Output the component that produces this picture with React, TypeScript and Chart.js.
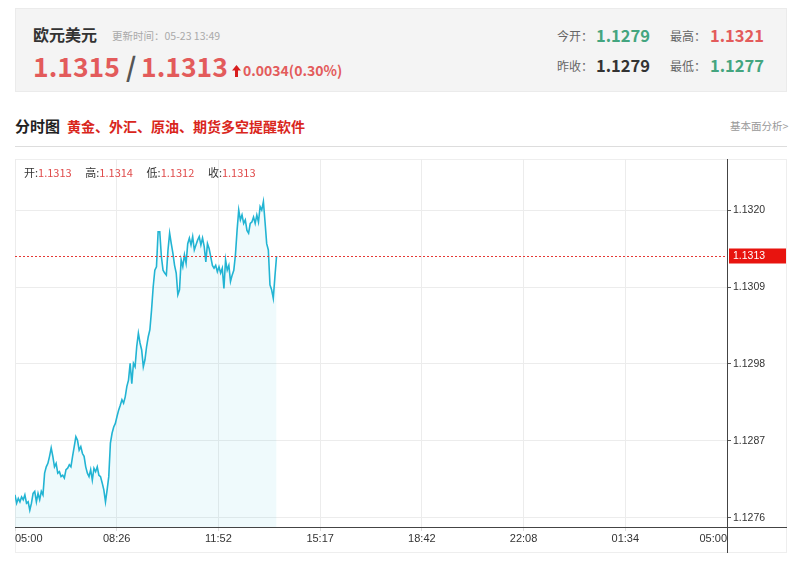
import React, { useEffect, useRef } from "react";
import { Chart, registerables } from "chart.js";

Chart.register(...registerables);

const timeLabels = ["05:00", "08:26", "11:52", "15:17", "18:42", "22:08", "01:34", "05:00"];
const sessionMinutes = 1440;
const lastMinute = 529; // 05:00 -> 13:49
const priceValues = [
  1.12793, 1.12781, 1.12788, 1.12783, 1.1279, 1.12786, 1.12793, 1.12781, 1.12783, 1.12771,
  1.12781, 1.12795, 1.12798, 1.12783, 1.12795, 1.12786, 1.12798, 1.12793, 1.12824, 1.12833,
  1.12838, 1.12848, 1.1286, 1.12848, 1.12833, 1.12838, 1.12824, 1.12826, 1.12819, 1.12821,
  1.12817, 1.12829, 1.12831, 1.12836, 1.12833, 1.12848, 1.12862, 1.12876, 1.12871, 1.12857,
  1.12862, 1.12852, 1.12848, 1.12833, 1.12824, 1.12819, 1.12829, 1.12814, 1.12831, 1.12826,
  1.12833, 1.12821, 1.12819, 1.1281, 1.128, 1.12783, 1.128, 1.12819, 1.12867, 1.12881,
  1.1289, 1.12895, 1.12905, 1.12914, 1.12921, 1.12929, 1.12924, 1.12933, 1.12948, 1.12957,
  1.12981, 1.12952, 1.12981, 1.12976, 1.13005, 1.13024, 1.1301, 1.13, 1.12976, 1.12986,
  1.13005, 1.13019, 1.13029, 1.13057, 1.1309, 1.13114, 1.13119, 1.13169, 1.13169, 1.13133,
  1.13114, 1.1311, 1.13107, 1.13143, 1.13167, 1.13152, 1.13138, 1.13121, 1.1311, 1.13079,
  1.13086, 1.13129, 1.13119, 1.13136, 1.13124, 1.13152, 1.1316, 1.1315, 1.13162, 1.13143,
  1.1315, 1.13157, 1.13162, 1.1315, 1.1316, 1.13148, 1.13126, 1.13152, 1.13145, 1.13133,
  1.13121, 1.13117, 1.13121, 1.13112, 1.13119, 1.1311, 1.13117, 1.13088, 1.13129, 1.13114,
  1.13121, 1.13098, 1.13107, 1.13114, 1.13136, 1.13171, 1.132, 1.13186, 1.13193, 1.13181,
  1.13186, 1.13171, 1.13167, 1.13181, 1.13183, 1.1319, 1.13181, 1.13193, 1.13183, 1.13205,
  1.132, 1.13212, 1.13183, 1.13152, 1.13143, 1.13093, 1.13086, 1.13074, 1.13105, 1.13134,
];
const yTickValues = [1.1276, 1.1287, 1.1298, 1.1309, 1.132];
const yMin = 1.12747;
const yMax = 1.13273;
const lastPrice = 1.13134;
const ohlcLabels = ["开", "高", "低", "收"];
const ohlcValues = ["1.1313", "1.1314", "1.1312", "1.1313"];

const CJK = "'Noto Sans CJK SC', 'Noto Sans', sans-serif";
const AXIS_FONT = "'Liberation Sans', Arial, sans-serif";

type TxtProps = {
  x: number;
  cy: number;
  size: number;
  color: string;
  bold?: boolean;
  children: React.ReactNode;
};

function Txt({ x, cy, size, color, bold, children }: TxtProps) {
  return (
    <div
      style={{
        position: "absolute",
        left: x,
        top: cy - size * 0.66,
        fontSize: size,
        lineHeight: `${size * 1.2}px`,
        color,
        fontWeight: bold ? 700 : 400,
        fontFamily: CJK,
        whiteSpace: "nowrap",
      }}
    >
      {children}
    </div>
  );
}

export default function App() {
  const canvasRef = useRef<HTMLCanvasElement>(null);

  useEffect(() => {
    if (!canvasRef.current) return;
    const n = priceValues.length;
    const points = priceValues.map((v, i) => ({ x: (i * lastMinute) / (n - 1), y: v }));

    const overlay = {
      id: "overlay",
      afterDraw(chart: any) {
        const { ctx, chartArea: a, scales } = chart;
        const y = Math.round(scales.y.getPixelForValue(lastPrice)) + 0.5;
        ctx.save();
        ctx.strokeStyle = "#e53935";
        ctx.lineWidth = 1;
        ctx.setLineDash([2, 2]);
        ctx.beginPath();
        ctx.moveTo(a.left, y);
        ctx.lineTo(a.right, y);
        ctx.stroke();
        ctx.setLineDash([]);
        ctx.strokeStyle = "#444";
        ctx.beginPath();
        ctx.moveTo(0, Math.round(a.bottom) + 0.5);
        ctx.lineTo(chart.width, Math.round(a.bottom) + 0.5);
        ctx.stroke();
        ctx.beginPath();
        ctx.moveTo(Math.round(a.right) + 0.5, 0);
        ctx.lineTo(Math.round(a.right) + 0.5, chart.height);
        ctx.stroke();
        ctx.fillStyle = "#e8140f";
        ctx.fillRect(a.right + 2, y - 8, 57, 15);
        ctx.fillStyle = "#ffffff";
        ctx.font = `10.5px ${AXIS_FONT}`;
        ctx.textBaseline = "middle";
        ctx.fillText(lastPrice.toFixed(4), a.right + 6, y);
        ctx.restore();
      },
    };

    const chart = new Chart(canvasRef.current, {
      type: "line",
      data: {
        datasets: [
          {
            data: points,
            borderColor: "#22b4d3",
            borderWidth: 1.6,
            backgroundColor: "rgba(34,180,211,0.07)",
            fill: "start",
            pointRadius: 0,
            tension: 0,
          },
        ],
      },
      options: {
        animation: false,
        responsive: false,
        devicePixelRatio: 1,
        layout: { padding: 0 },
        plugins: { legend: { display: false }, tooltip: { enabled: false } },
        scales: {
          x: {
            type: "linear",
            min: 0,
            max: sessionMinutes,
            afterBuildTicks: (s: any) => {
              s.ticks = timeLabels.map((_, i) => ({
                value: (i * sessionMinutes) / (timeLabels.length - 1),
              }));
            },
            afterFit: (s: any) => {
              s.height = 26;
              s.paddingLeft = 0;
              s.paddingRight = 0;
            },
            grid: { color: "#ececec", tickColor: "#dddddd", tickLength: 4 },
            border: { display: false },
            ticks: {
              autoSkip: false,
              maxRotation: 0,
              align: "inner",
              padding: 1,
              color: "#333",
              font: { family: AXIS_FONT, size: 11 },
              callback: (_v: any, i: number) => timeLabels[i],
            },
          },
          y: {
            type: "linear",
            position: "right",
            min: yMin,
            max: yMax,
            afterBuildTicks: (s: any) => {
              s.ticks = yTickValues.map((v) => ({ value: v }));
            },
            afterFit: (s: any) => {
              s.width = 60;
              s.paddingTop = 0;
              s.paddingBottom = 0;
            },
            grid: { color: "#ececec", tickColor: "#555", tickLength: 4 },
            border: { display: false },
            ticks: {
              padding: 2,
              color: "#333",
              font: { family: AXIS_FONT, size: 10.5 },
              callback: (v: any) => Number(v).toFixed(4),
            },
          },
        },
      },
      plugins: [overlay],
    } as any);
    return () => chart.destroy();
  }, []);

  return (
    <div style={{ position: "absolute", left: 0, top: 0, width: 800, height: 570, background: "#fff" }}>
      {/* header box */}
      <div
        style={{
          position: "absolute",
          left: 15,
          top: 8,
          width: 772,
          height: 84,
          background: "#f4f4f4",
          border: "1px solid #ebebeb",
          boxSizing: "border-box",
        }}
      />
      <Txt x={33} cy={36} size={16} color="#333" bold>欧元美元</Txt>
      <Txt x={112} cy={37} size={10.5} color="#aaa">更新时间：05-23 13:49</Txt>
      <Txt x={33} cy={67} size={26.5} color="#e35b5b" bold>1.1315</Txt>
      <Txt x={126} cy={67} size={26.5} color="#555" bold>/</Txt>
      <Txt x={141} cy={67} size={26.5} color="#e35b5b" bold>1.1313</Txt>
      <svg style={{ position: "absolute", left: 232, top: 65 }} width={9} height={12} viewBox="0 0 9 12">
        <polygon points="4.5,0 9,5.5 6,5.5 6,12 3,12 3,5.5 0,5.5" fill="#d81e1e" />
      </svg>
      <Txt x={243} cy={71} size={14} color="#e35b5b" bold>0.0034(0.30%)</Txt>

      <Txt x={557} cy={37} size={12} color="#666">今开：</Txt>
      <Txt x={596} cy={37} size={16.5} color="#44a57f" bold>1.1279</Txt>
      <Txt x={670} cy={37} size={12} color="#666">最高：</Txt>
      <Txt x={710} cy={37} size={16.5} color="#e35b5b" bold>1.1321</Txt>
      <Txt x={557} cy={67} size={12} color="#666">昨收：</Txt>
      <Txt x={596} cy={67} size={16.5} color="#333" bold>1.1279</Txt>
      <Txt x={670} cy={67} size={12} color="#666">最低：</Txt>
      <Txt x={710} cy={67} size={16.5} color="#44a57f" bold>1.1277</Txt>

      {/* section header */}
      <Txt x={15} cy={127} size={15} color="#222" bold>分时图</Txt>
      <Txt x={67} cy={127} size={14} color="#d9261c" bold>黄金、外汇、原油、期货多空提醒软件</Txt>
      <Txt x={730} cy={127} size={10.5} color="#999">基本面分析&gt;</Txt>
      <div style={{ position: "absolute", left: 15, top: 146, width: 772, height: 1, background: "#dddddd" }} />

      {/* chart box */}
      <div
        style={{
          position: "absolute",
          left: 15,
          top: 159,
          width: 772,
          height: 394,
          border: "1px solid #eeeeee",
          boxSizing: "border-box",
        }}
      />
      <canvas
        ref={canvasRef}
        width={772}
        height={394}
        style={{ position: "absolute", left: 15, top: 159, width: 772, height: 394, display: "block" }}
      />
      {ohlcLabels.map((lab, i) => (
        <Txt key={i} x={24 + i * 61.3} cy={173} size={11} color="#333">
          {lab}:<span style={{ color: "#e04b4b" }}>{ohlcValues[i]}</span>
        </Txt>
      ))}
    </div>
  );
}
